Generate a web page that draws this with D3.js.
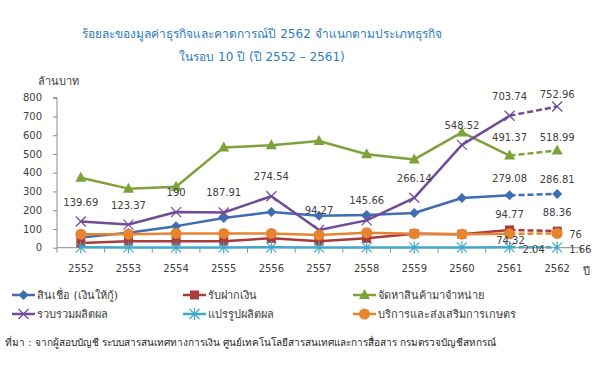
<!DOCTYPE html>
<html><head><meta charset="utf-8">
<script src="https://cdn.jsdelivr.net/npm/d3@7"></script>
<style>
html,body{margin:0;padding:0;background:#fff;}
svg{display:block;font-family:Tahoma,"DejaVu Sans",sans-serif;}
</style></head>
<body><svg id="c" width="600" height="367"></svg>
<script>
const years = ["2552","2553","2554","2555","2556","2557","2558","2559","2560","2561","2562"];
const yTicks = [0,100,200,300,400,500,600,700,800];
const seriesNames = ["สินเชื่อ (เงินให้กู้)","รับฝากเงิน","จัดหาสินค้ามาจำหน่าย","รวบรวมผลิตผล","แปรรูปผลิตผล","บริการและส่งเสริมการเกษตร"];
const loans    = [55, 80, 115, 158, 190, 170, 175, 185, 265, 279.08, 286.81];
const deposits = [25, 35, 35, 35, 50, 35, 50, 75, 72, 94.77, 88.36];
const supply   = [373, 315, 325, 535, 546, 569, 498, 471, 615, 491.37, 518.99];
const collect  = [139.69, 123.37, 190, 187.91, 274.54, 94.27, 145.66, 266.14, 548.52, 703.74, 752.96];
const processing = [2, 1.5, 1.5, 1.5, 2, 1.5, 1.5, 1.5, 1.5, 2.04, 1.66];
const service  = [72, 72, 76, 76, 76, 68, 80, 75, 72, 74.32, 76];
const titleLines = ["ร้อยละของมูลค่าธุรกิจและคาดการณ์ปี 2562 จำแนกตามประเภทธุรกิจ","ในรอบ 10 ปี (ปี 2552 – 2561)"];
const yTitle = "ล้านบาท";
const xTitle = "ปี";
const sourceText = "ที่มา : จากผู้สอบบัญชี ระบบสารสนเทศทางการเงิน ศูนย์เทคโนโลยีสารสนเทศและการสื่อสาร กรมตรวจบัญชีสหกรณ์";

const svg = d3.select("#c");
const L = 57, R = 581, T = 97.7, B = 247.7;
const x = d3.scaleBand().domain(years).range([L, R]);
const y = d3.scaleLinear().domain([0, 800]).range([B, T]);
const cx = d => x(d) + x.bandwidth()/2;

const colors = ["#3E6DB0","#AA3B3B","#7EA23A","#6E4C98","#43A9C9","#E8832F"];
const shapes = ["diamond","square","triangle","x","star","circle"];
const data = [loans, deposits, supply, collect, processing, service];

// title
svg.selectAll(".title").data(titleLines).join("text")
  .attr("x", 262).attr("y", (d,i)=> 38 + i*23)
  .attr("text-anchor","middle").attr("font-size", 12).attr("fill","#2E7CC0").text(d=>d);

// axes
const gy = svg.append("g").attr("transform",`translate(${L},0)`)
  .call(d3.axisLeft(y).tickValues(yTicks).tickSize(4).tickPadding(11));
gy.select(".domain").attr("stroke","#8c8c8c").attr("d",`M-4,${T}H0V${B}`);
gy.selectAll(".tick line").attr("stroke","#8c8c8c");
gy.selectAll(".tick text").attr("font-size",10).attr("fill","#404040").attr("font-family","'DejaVu Sans',sans-serif");

const gx = svg.append("g").attr("transform",`translate(0,${B})`)
  .call(d3.axisBottom(x).tickSize(0).tickPadding(17));
gx.select(".domain").attr("stroke","#8c8c8c").attr("d",`M${L},0H${R}`);
gx.selectAll(".tick text").attr("font-size",10).attr("fill","#404040").attr("font-family","'DejaVu Sans',sans-serif");
// category boundary ticks
const bounds = years.map(d=>x(d)).concat([R]);
svg.append("g").selectAll("line").data(bounds).join("line")
  .attr("x1",d=>d).attr("x2",d=>d).attr("y1",B).attr("y2",B+5).attr("stroke","#8c8c8c");

svg.append("text").attr("x",58).attr("y",85).attr("text-anchor","middle").attr("font-size",11).attr("fill","#404040").text(yTitle);
svg.append("text").attr("x",583).attr("y",275).attr("font-size",11).attr("fill","#404040").text(xTitle);

function marker(g, shape, color, px, py){
  if(shape==="diamond"){
    g.append("path").attr("d",`M${px},${py-5}L${px+5},${py}L${px},${py+5}L${px-5},${py}Z`).attr("fill",color);
  } else if(shape==="square"){
    g.append("rect").attr("x",px-4.5).attr("y",py-4.5).attr("width",9).attr("height",9).attr("fill",color);
  } else if(shape==="triangle"){
    g.append("path").attr("d",`M${px},${py-6}L${px+5.5},${py+4}L${px-5.5},${py+4}Z`).attr("fill",color);
  } else if(shape==="x"){
    g.append("path").attr("d",`M${px-5},${py-5}L${px+5},${py+5}M${px-5},${py+5}L${px+5},${py-5}`).attr("stroke",color).attr("stroke-width",1.2).attr("fill","none");
  } else if(shape==="star"){
    g.append("path").attr("d",`M${px-5},${py-5}L${px+5},${py+5}M${px-5},${py+5}L${px+5},${py-5}M${px},${py-6}V${py+6}`).attr("stroke",color).attr("stroke-width",1.2).attr("fill","none");
  } else {
    g.append("circle").attr("cx",px).attr("cy",py).attr("r",5.5).attr("fill",color);
  }
}

const line = d3.line().x(d=>cx(d.year)).y(d=>y(d.v));
data.forEach((vals,si)=>{
  const pts = vals.map((v,i)=>({year:years[i], v}));
  const g = svg.append("g");
  g.append("path").datum(pts.slice(0,10)).attr("d",line).attr("fill","none")
    .attr("stroke",colors[si]).attr("stroke-width",2.5).attr("stroke-linejoin","round");
  g.append("path").datum(pts.slice(9)).attr("d",line).attr("fill","none")
    .attr("stroke",colors[si]).attr("stroke-width",2.5).attr("stroke-dasharray","6,3");
  pts.forEach(p=>marker(g, shapes[si], colors[si], cx(p.year), y(p.v)));
});

// data labels
const labelStyle = (sel)=>sel.attr("font-size",10).attr("fill","#404040").attr("font-family","'DejaVu Sans',sans-serif");
const lab = svg.append("g");
collect.forEach((v,i)=>{
  lab.append("text").call(labelStyle).attr("x",cx(years[i])).attr("y",Math.max(y(v)-16,98))
    .attr("text-anchor","middle").text(v);
});
// last two labels for other series: [seriesIndex, [dx, dy, anchor] per point]
const endLabels = [
  [2, [[0,-15,"middle"],[0,-9.5,"middle"]]],
  [0, [[0,-13,"middle"],[0,-11,"middle"]]],
  [1, [[0,-12,"middle"],[0,-15,"middle"]]],
  [5, [[1,10,"middle"],[12,4.5,"start"]]],
  [4, [[13,6,"start"],[12,6,"start"]]]
];
endLabels.forEach(([si, pl])=>{
  [9,10].forEach((idx,k)=>{
    const v = data[si][idx];
    lab.append("text").call(labelStyle).attr("x",cx(years[idx])+pl[k][0]).attr("y",y(v)+pl[k][1])
      .attr("text-anchor",pl[k][2]).text(v);
  });
});

// legend
const legPos = [[12,295],[183,295],[353,295],[12,314],[183,314],[353,314]];
seriesNames.forEach((n,i)=>{
  const [lx,ly] = legPos[i];
  const g = svg.append("g");
  g.append("line").attr("x1",lx).attr("x2",lx+23).attr("y1",ly).attr("y2",ly).attr("stroke",colors[i]).attr("stroke-width",2.5);
  marker(g, shapes[i], colors[i], lx+11.5, ly);
  g.append("text").attr("x",lx+25).attr("y",ly+4).attr("font-size",11).attr("fill","#404040").text(n);
});

svg.append("text").attr("x",5).attr("y",346).attr("font-size",10).attr("fill","#262626").text(sourceText);
</script></body></html>
